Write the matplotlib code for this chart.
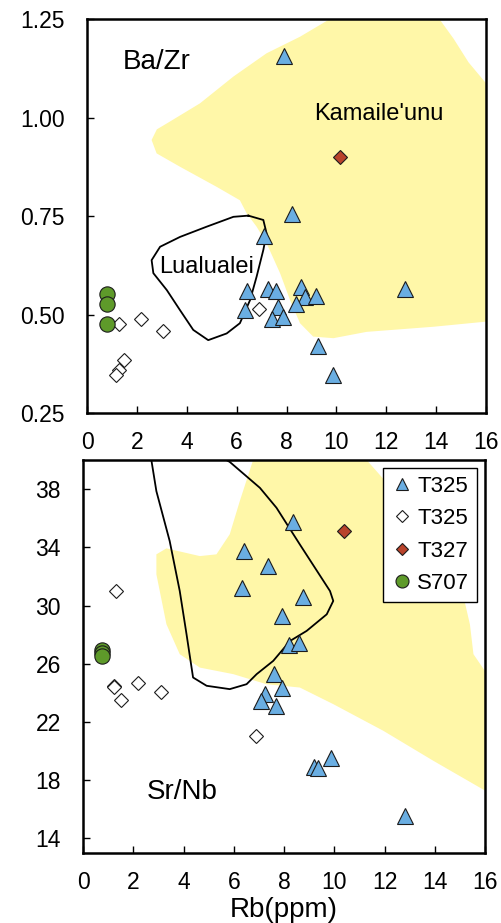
import numpy as np
import matplotlib.pyplot as plt

plt.rcParams['font.family'] = ['Liberation Sans', 'DejaVu Sans']

# --- Ba/Zr vs Rb (top panel) ---
tri_rb_top = [7.9, 8.2, 7.1, 6.4, 7.27, 7.58, 8.57, 8.74, 9.17, 8.38, 7.67, 6.34, 7.40, 7.87, 9.28, 9.85, 12.75]
tri_bazr = [1.155, 0.755, 0.70, 0.56, 0.566, 0.56, 0.571, 0.545, 0.547, 0.528, 0.518, 0.511, 0.488, 0.493, 0.42, 0.346, 0.566]
dia_rb_top = [1.30, 2.17, 3.06, 1.48, 1.30, 1.16, 6.91]
dia_bazr = [0.475, 0.489, 0.458, 0.385, 0.359, 0.346, 0.514]
red_rb_top = [10.15]
red_bazr = [0.90]
grn_rb_top = [0.79, 0.79, 0.79]
grn_bazr = [0.551, 0.526, 0.476]

# Kamaile'unu field and Lualualei outline (Ba/Zr)
kam_top_x = [9.74, 14.13, 14.7, 15.3, 16.0, 16.0, 13.89, 11.21, 9.88, 9.07, 8.54, 8.14, 7.74, 7.2, 6.8,
             6.4, 6.13, 5.2, 3.73, 2.79, 2.59, 2.8, 3.2, 4.53, 5.87, 7.2, 8.54]
kam_top_y = [1.25, 1.25, 1.2, 1.14, 1.087, 0.482, 0.469, 0.456, 0.44, 0.444, 0.478, 0.537, 0.605, 0.681, 0.723,
             0.757, 0.79, 0.824, 0.875, 0.909, 0.943, 0.97, 0.985, 1.036, 1.104, 1.163, 1.205]
lua_top_x = [6.47, 7.07, 7.2, 7.07, 6.8, 6.54, 6.13, 5.6, 4.86, 4.26, 3.73, 3.2, 2.66, 2.59, 2.93, 3.73, 4.8, 5.87, 6.47]
lua_top_y = [0.751, 0.74, 0.706, 0.664, 0.596, 0.537, 0.478, 0.452, 0.435, 0.461, 0.511, 0.562, 0.605,
             0.638, 0.672, 0.697, 0.723, 0.748, 0.751]

# --- Sr/Nb vs Rb (bottom panel) ---
tri_rb_bot = [8.37, 6.40, 7.35, 6.31, 8.74, 7.90, 8.21, 8.61, 7.6, 7.90, 7.24, 7.07, 7.7, 9.87, 9.2, 9.36, 12.8]
tri_srnb = [35.74, 33.75, 32.72, 31.23, 30.6, 29.29, 27.3, 27.46, 25.29, 24.33, 23.96, 23.46, 23.12, 19.5, 18.9, 18.84, 15.57]
dia_rb_bot = [1.30, 1.24, 2.19, 3.12, 1.53, 6.87, 1.22]
dia_srnb = [31.0, 24.49, 24.65, 24.03, 23.53, 21.06, 24.4]
red_rb_bot = [10.4]
red_srnb = [35.12]
grn_rb_bot = [0.77, 0.77, 0.77]
grn_srnb = [26.95, 26.75, 26.55]

kam_bot_x = [6.77, 11.29, 12.62, 13.94, 15.0, 15.4, 15.54, 16.0, 16.0, 13.94, 11.95, 9.96, 8.63, 7.3,
             5.98, 4.65, 3.85, 3.32, 2.92, 2.92, 3.32, 4.65, 5.31, 5.84, 6.24]
kam_bot_y = [40.0, 40.0, 37.4, 34.43, 31.7, 28.7, 26.66, 25.5, 17.29, 19.34, 21.4, 23.23, 24.37, 24.6,
             25.29, 25.74, 26.66, 28.72, 32.15, 33.52, 33.93, 33.4, 33.52, 34.9, 37.18]
lua_bot_x = [2.65, 2.72, 2.92, 3.45, 3.85, 4.12, 4.38, 4.92, 5.84, 6.51, 6.91, 7.57, 8.24, 8.9, 9.7,
             9.96, 9.83, 8.63, 7.7, 7.04, 5.84, 5.6]
lua_bot_y = [41.0, 40.0, 37.86, 34.43, 31.0, 28.03, 25.06, 24.49, 24.26, 24.6, 25.29, 26.2, 27.57, 28.26,
             29.4, 30.32, 31.0, 34.2, 36.72, 38.09, 39.87, 40.1]

x_ticks = np.arange(0, 17, 2)
bazr_ticks = [0.25, 0.50, 0.75, 1.00, 1.25]
srnb_ticks = [14, 18, 22, 26, 30, 34, 38]

yellow = '#fff7a8'
blue = '#6aaee2'
red = '#b9432b'
green = '#5e9a2a'
edge = '#1c1c1c'

fig = plt.figure(figsize=(5.01, 9.23), dpi=100)
ax1 = fig.add_axes([0.1737, 0.5525, 0.7964, 0.4269])
ax2 = fig.add_axes([0.1657, 0.0758, 0.8024, 0.4258])


def draw_points(ax, tx, ty, dx, dy, rx, ry, gx, gy):
    ax.plot(tx, ty, '^', ms=11, mfc=blue, mec=edge, mew=0.8, ls='none', label='T325', zorder=4)
    ax.plot(dx, dy, 'D', ms=7.5, mfc='white', mec=edge, mew=0.8, ls='none', label='T325', zorder=4)
    ax.plot(rx, ry, 'D', ms=7.5, mfc=red, mec=edge, mew=0.8, ls='none', label='T327', zorder=4)
    ax.plot(gx, gy, 'o', ms=11, mfc=green, mec=edge, mew=0.8, ls='none', label='S707', zorder=4)


def style(ax):
    for s in ax.spines.values():
        s.set_linewidth(1.8)
    ax.set_xlim(0, 16)
    ax.set_xticks(x_ticks)
    ax.tick_params(direction='in', length=5, width=1, labelsize=16.5)
    ax.tick_params(axis='x', pad=13)
    ax.tick_params(axis='y', pad=16)


# top panel
ax1.fill(kam_top_x, kam_top_y, color=yellow, lw=0, zorder=1)
ax1.plot(lua_top_x, lua_top_y, color='black', lw=1.3, zorder=2)
draw_points(ax1, tri_rb_top, tri_bazr, dia_rb_top, dia_bazr, red_rb_top, red_bazr, grn_rb_top, grn_bazr)
style(ax1)
ax1.set_ylim(0.25, 1.25)
ax1.set_yticks(bazr_ticks)
ax1.set_yticklabels([f'{v:.2f}' for v in bazr_ticks])
ax1.text(1.45, 1.14, 'Ba/Zr', fontsize=20, va='center', ha='left')
ax1.text(11.7, 1.01, "Kamaile'unu", fontsize=17, va='center', ha='center')
ax1.text(4.8, 0.62, 'Lualualei', fontsize=17, va='center', ha='center', zorder=3,
         bbox=dict(facecolor='white', edgecolor='none', pad=0.5))

# bottom panel
ax2.fill(kam_bot_x, kam_bot_y, color=yellow, lw=0, zorder=1)
ax2.plot(lua_bot_x, lua_bot_y, color='black', lw=1.3, zorder=2)
draw_points(ax2, tri_rb_bot, tri_srnb, dia_rb_bot, dia_srnb, red_rb_bot, red_srnb, grn_rb_bot, grn_srnb)
style(ax2)
ax2.set_ylim(13, 40)
ax2.set_yticks(srnb_ticks)
ax2.text(3.95, 17.2, 'Sr/Nb', fontsize=20, va='center', ha='center')
ax2.set_xlabel('Rb(ppm)', fontsize=20, labelpad=2)
leg = ax2.legend(loc='upper right', fontsize=16, frameon=True, fancybox=False, framealpha=1,
                 edgecolor='black', handlelength=1.0, handletextpad=0.2, labelspacing=0.52,
                 borderpad=0.35, borderaxespad=0.35, markerscale=0.85)
leg.get_frame().set_linewidth(1.0)

fig.savefig('out.png', dpi=100)
